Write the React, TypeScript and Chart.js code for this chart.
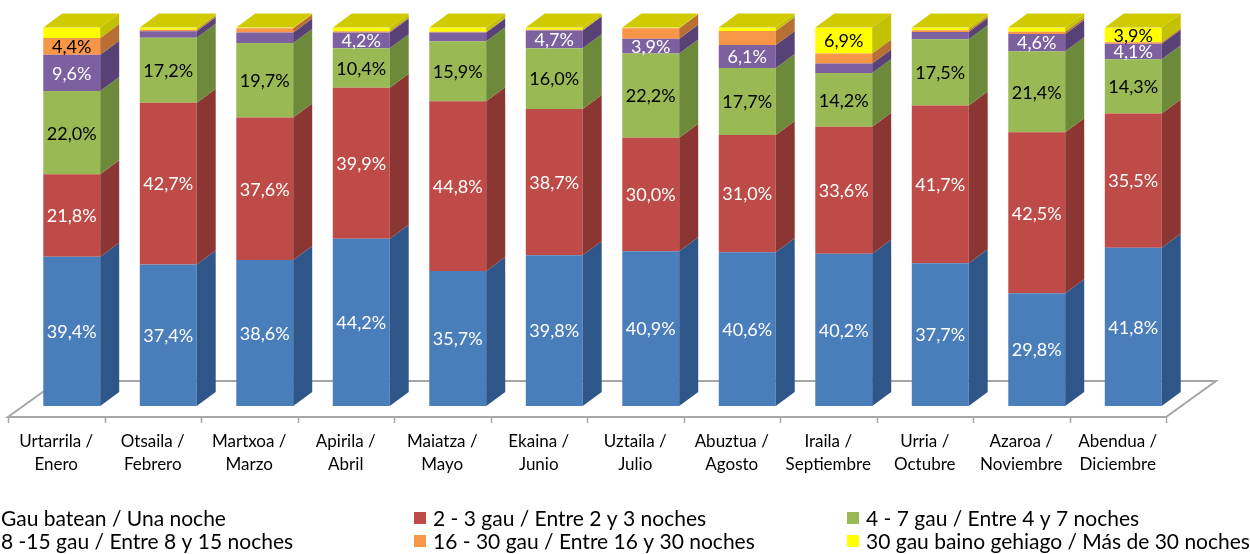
import React, { useEffect, useRef } from "react";
import { Chart, registerables } from "chart.js";

Chart.register(...registerables);

const categories: string[][] = [
  ["Urtarrila /", "Enero"],
  ["Otsaila /", "Febrero"],
  ["Martxoa /", "Marzo"],
  ["Apirila /", "Abril"],
  ["Maiatza /", "Mayo"],
  ["Ekaina /", "Junio"],
  ["Uztaila /", "Julio"],
  ["Abuztua /", "Agosto"],
  ["Iraila /", "Septiembre"],
  ["Urria /", "Octubre"],
  ["Azaroa /", "Noviembre"],
  ["Abendua /", "Diciembre"],
];

const seriesNames = [
  "Gau batean / Una noche",
  "2 - 3 gau / Entre 2 y 3 noches",
  "4 - 7 gau / Entre 4 y 7 noches",
  "8 -15 gau / Entre 8 y 15 noches",
  "16 - 30 gau / Entre 16 y 30 noches",
  "30 gau baino gehiago / Más de 30 noches",
];

const oneNight = [39.4, 37.4, 38.6, 44.2, 35.7, 39.8, 40.9, 40.6, 40.2, 37.7, 29.8, 41.8];
const twoThree = [21.8, 42.7, 37.6, 39.9, 44.8, 38.7, 30.0, 31.0, 33.6, 41.7, 42.5, 35.5];
const fourSeven = [22.0, 17.2, 19.7, 10.4, 15.9, 16.0, 22.2, 17.7, 14.2, 17.5, 21.4, 14.3];
const eightFifteen = [9.6, 1.7, 2.8, 4.2, 2.3, 4.7, 3.9, 6.1, 2.5, 1.9, 4.6, 4.1];
const sixteenThirty = [4.4, 0.4, 1.1, 0.3, 0.2, 0.2, 2.8, 3.7, 2.6, 0.5, 0.6, 0.4];
const moreThirty = [2.8, 0.6, 0.2, 1.0, 1.1, 0.6, 0.2, 0.9, 6.9, 0.7, 1.1, 3.9];

const seriesValues = [oneNight, twoThree, fourSeven, eightFifteen, sixteenThirty, moreThirty];

const frontColors = ["#4A7EBB", "#BE4B48", "#98B954", "#7D60A0", "#F79646", "#FFFF00"];
const sideColors = ["#2F5688", "#8C3634", "#6C8A3A", "#584275", "#B86F33", "#C2C200"];
const topColors = ["#5F8FC9", "#C96562", "#A9C56E", "#8F75AE", "#E9A060", "#CFCB00"];
const labelColors = ["#FFFFFF", "#FFFFFF", "#000000", "#FFFFFF", "#000000", "#000000"];

const FONT = "Lato, 'Open Sans', sans-serif";
const DEPTH_X = 19;
const DEPTH_Y = -14;

const floorPlugin = {
  id: "floor3d",
  beforeDatasetsDraw(chart: any) {
    const { ctx, chartArea } = chart;
    const x = chart.scales.x;
    const step = x.getPixelForValue(1) - x.getPixelForValue(0);
    const shift = -15.5;
    const fy = chartArea.bottom + 11;
    const fl = x.getPixelForValue(0) - step / 2 + shift;
    const fr = x.getPixelForValue(categories.length - 1) + step / 2 + shift;
    const bdx = 50;
    const bdy = -36;
    ctx.save();
    ctx.strokeStyle = "#A6A6A6";
    ctx.lineWidth = 2;
    ctx.beginPath();
    ctx.moveTo(fl + bdx, fy + bdy);
    ctx.lineTo(fl, fy);
    ctx.lineTo(fr, fy);
    ctx.lineTo(fr + bdx, fy + bdy);
    ctx.lineTo(fl + bdx, fy + bdy);
    ctx.stroke();
    ctx.beginPath();
    for (let i = 0; i <= categories.length; i++) {
      const tx = Math.round(fl + i * step) + 0.5;
      ctx.moveTo(tx, fy);
      ctx.lineTo(tx, fy + 6);
    }
    ctx.lineWidth = 1.5;
    ctx.stroke();
    ctx.restore();
  },
  afterDatasetsDraw(chart: any) {
    const { ctx } = chart;
    const n = categories.length;
    ctx.save();
    chart.data.datasets.forEach((ds: any, di: number) => {
      const meta = chart.getDatasetMeta(di);
      meta.data.forEach((bar: any) => {
        const p = bar.getProps(["x", "y", "base", "width"], true);
        if (Math.abs(p.base - p.y) < 0.01) return;
        const r = p.x + p.width / 2;
        ctx.fillStyle = sideColors[di];
        ctx.beginPath();
        ctx.moveTo(r, p.y);
        ctx.lineTo(r + DEPTH_X, p.y + DEPTH_Y);
        ctx.lineTo(r + DEPTH_X, p.base + DEPTH_Y);
        ctx.lineTo(r, p.base);
        ctx.closePath();
        ctx.fill();
      });
    });
    for (let i = 0; i < n; i++) {
      let topDs = -1;
      for (let di = chart.data.datasets.length - 1; di >= 0; di--) {
        if (chart.data.datasets[di].data[i] > 0) {
          topDs = di;
          break;
        }
      }
      if (topDs < 0) continue;
      const bar = chart.getDatasetMeta(topDs).data[i];
      const p = bar.getProps(["x", "y", "base", "width"], true);
      const l = p.x - p.width / 2;
      const r = p.x + p.width / 2;
      ctx.fillStyle = topColors[topDs];
      ctx.beginPath();
      ctx.moveTo(l, p.y);
      ctx.lineTo(l + DEPTH_X, p.y + DEPTH_Y);
      ctx.lineTo(r + DEPTH_X, p.y + DEPTH_Y);
      ctx.lineTo(r, p.y);
      ctx.closePath();
      ctx.fill();
    }
    ctx.font = `18px ${FONT}`;
    ctx.textAlign = "center";
    ctx.textBaseline = "middle";
    chart.data.datasets.forEach((ds: any, di: number) => {
      const meta = chart.getDatasetMeta(di);
      meta.data.forEach((bar: any, i: number) => {
        const v = ds.data[i];
        if (v < 3.8) return;
        const p = bar.getProps(["x", "y", "base", "width"], true);
        ctx.fillStyle = labelColors[di];
        ctx.fillText(v.toFixed(1).replace(".", ",") + "%", p.x, (p.y + p.base) / 2 + 1);
      });
    });
    ctx.restore();
  },
  afterDraw(chart: any) {
    const { ctx } = chart;
    const colX = [1, 433, 866];
    const rowY = [518, 541];
    ctx.save();
    ctx.font = `21px ${FONT}`;
    ctx.textAlign = "left";
    ctx.textBaseline = "middle";
    seriesNames.forEach((name, k) => {
      const col = k % 3;
      const row = Math.floor(k / 3);
      const tx = colX[col];
      const ty = rowY[row];
      ctx.fillStyle = frontColors[k];
      ctx.fillRect(tx - 19, ty - 6, 12, 12);
      ctx.fillStyle = "#000000";
      ctx.fillText(name, tx, ty + 1);
    });
    ctx.restore();
  },
};

export default function App() {
  const ref = useRef<HTMLCanvasElement>(null);
  useEffect(() => {
    if (!ref.current) return;
    const chart = new Chart(ref.current, {
      type: "bar",
      data: {
        labels: categories,
        datasets: seriesValues.map((vals, k) => ({
          label: seriesNames[k],
          data: vals,
          backgroundColor: frontColors[k],
          borderWidth: 0,
          barPercentage: 0.59,
          categoryPercentage: 1,
        })),
      },
      options: {
        animation: false,
        responsive: false,
        devicePixelRatio: 1,
        layout: { padding: { left: 23.5, right: 68.5, top: 27.5, bottom: 0 } },
        plugins: { legend: { display: false }, tooltip: { enabled: false } },
        scales: {
          x: {
            stacked: true,
            grid: { display: false, drawTicks: false },
            border: { display: false },
            ticks: {
              color: "#000000",
              font: { family: FONT, size: 17, lineHeight: 1.35 },
              labelOffset: -15.5,
              padding: 24,
              maxRotation: 0,
              autoSkip: false,
            },
            afterFit: (scale: any) => {
              scale.height = 148;
            },
          },
          y: { stacked: true, min: 0, max: 100, display: false },
        },
      },
      plugins: [floorPlugin],
    } as any);
    return () => chart.destroy();
  }, []);
  return (
    <div style={{ position: "absolute", left: 0, top: 0, width: 1250, height: 554, background: "#fff" }}>
      <canvas ref={ref} width={1250} height={554} />
    </div>
  );
}
